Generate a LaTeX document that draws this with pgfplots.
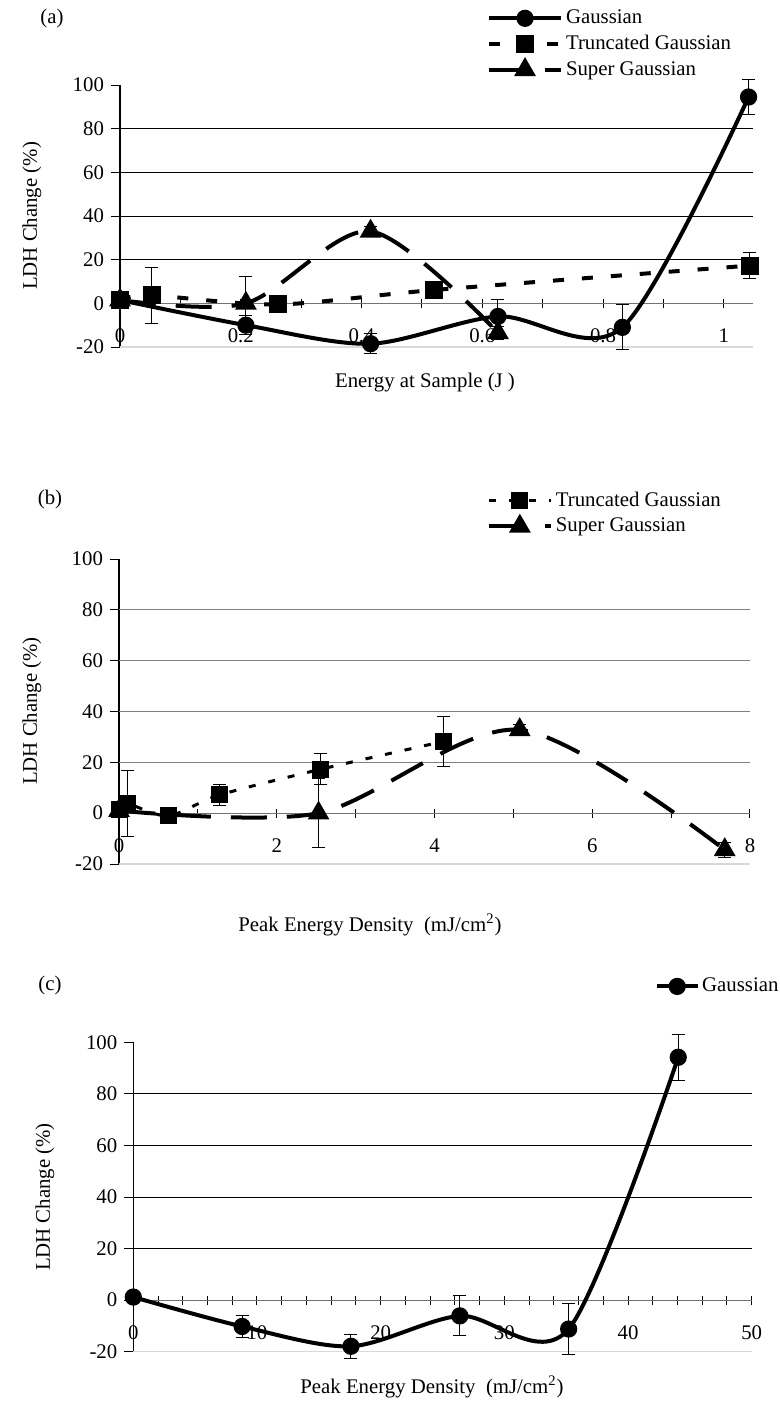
\documentclass[border=0pt]{standalone}
\usepackage{fontspec}
\setmainfont{Liberation Serif}
\usepackage{pgfplots}
\pgfplotsset{compat=1.18}
\begin{document}
\begin{tikzpicture}[font=\fontsize{10.4}{12.5}\selectfont]
\path[use as bounding box] (0pt,0pt) rectangle (390pt,-701.5pt);
\pgfplotsset{
  ldh/.style={
    scale only axis, clip=false, anchor=south west,
    axis x line=middle, axis y line=left,
    axis line style={-},
    x axis line style={black!55, line width=0.6pt},
    y axis line style={black, line width=0.6pt},
    hide obscured x ticks=false, hide obscured y ticks=false,
    ymin=-20, ymax=100, ytick={-20,0,...,100},
    extra y ticks={20,40,60,80}, extra y tick labels={},
    extra y tick style={grid=major, major tick length=0pt},
    major grid style={black, line width=0.5pt},
    xtick align=center, ytick align=outside,
    major tick length=4.5pt, minor tick length=4.5pt,
    tick style={black, line width=0.5pt},
    /pgf/number format/assume math mode=true,
    tick label style={font=\fontsize{10.4}{12.5}\selectfont},
    xticklabel style={yshift=-7pt},
    legend cell align=left,
    legend style={draw=none, fill=none, inner sep=0pt, outer sep=0pt, anchor=north west,
       font=\fontsize{10.4}{12}\selectfont, nodes={inner sep=1.5pt}, row sep=1.3pt},
    legend image code/.code={\draw[mark repeat=2,mark phase=2] plot coordinates {(0pt,0pt) (18pt,0pt) (36pt,0pt)};},
  },
  gauss/.style={black, line width=2pt, smooth, mark=*, mark size=3.3pt, mark options={solid}},
  trunc/.style={black, line width=2pt, smooth, dash pattern=on 5.5pt off 9pt, mark=square*, mark size=3.5pt, mark options={solid}},
  super/.style={black, line width=2pt, smooth, dash pattern=on 18pt off 10pt, mark=triangle*, mark size=4.3pt, mark options={solid}},
  ebar/.style={error bars/.cd, y dir=both, y explicit, error bar style={black, line width=0.5pt, solid}, error mark options={rotate=90, mark size=3.25pt, line width=0.5pt, solid}},
}
% ---------------- (a)
\begin{axis}[ldh, at={(60pt,-173.5pt)}, width=316.4pt, height=131pt,
  xmin=0, xmax=1.048, xtick={0,0.2,0.4,0.6,0.8,1}, xticklabels={0,0.2,0.4,0.6,0.8,1}, minor x tick num=1,
  legend style={at={(0.58,1.298)}}]
\draw[black!15, line width=0.6pt] (rel axis cs:0,0) -- (rel axis cs:1,0);
\addplot[gauss, ebar] coordinates {(0,1.5) +- (0,0) (0.2085,-10) +- (0,4.3) (0.415,-18.5) +- (0,4.7) (0.626,-6) +- (0,7.8) (0.832,-11) +- (0,10.3) (1.041,94.5) +- (0,8)};
\addlegendentry{Gaussian}
\addplot[trunc, ebar] coordinates {(0,1.5) +- (0,0) (0.0526,3.6) +- (0,13) (0.2616,-0.5) +- (0,2) (0.52,6.1) +- (0,3) (1.043,17.3) +- (0,6)};
\addlegendentry{Truncated Gaussian}
\addplot[super, ebar] coordinates {(0,1.5) +- (0,0) (0.2085,0) +- (0,12.5) (0.415,33) +- (0,2) (0.626,-13.5) +- (0,3)};
\addlegendentry{Super Gaussian}
\end{axis}
% ---------------- (b)
\begin{axis}[ldh, at={(59.5pt,-432pt)}, width=315.5pt, height=152.5pt,
  xmin=0, xmax=8, xtick={0,2,4,6,8}, minor x tick num=1,
  major grid style={black!50, line width=0.5pt},
  legend style={at={(0.583,1.23)}},
  legend image code/.code={\draw[mark repeat=2,mark phase=2] plot coordinates {(0pt,0pt) (15.5pt,0pt) (31pt,0pt)};}]
\draw[black!15, line width=0.6pt] (rel axis cs:0,0) -- (rel axis cs:1,0);
\addplot[trunc, line width=1.5pt, dash pattern=on 3.5pt off 6.5pt, ebar] coordinates {(0,1.3) +- (0,0) (0.11,3.7) +- (0,13) (0.625,-1) +- (0,2) (1.28,7.2) +- (0,4) (2.56,17.3) +- (0,6) (4.11,28.2) +- (0,9.7)};
\addlegendentry{Truncated Gaussian}
\addplot[super, ebar] coordinates {(0,1) +- (0,0) (2.53,0) +- (0,13.5) (5.08,32.8) +- (0,2) (7.68,-14.4) +- (0,3)};
\addlegendentry{Super Gaussian}
\end{axis}
% ---------------- (c)
\begin{axis}[ldh, at={(66.65pt,-675.85pt)}, width=309.2pt, height=154.7pt,
  xmin=0, xmax=50, xtick={0,10,20,30,40,50}, minor x tick num=4,
  legend style={at={(0.844,1.2175)}},
  legend image code/.code={\draw[mark repeat=2,mark phase=2] plot coordinates {(0pt,0pt) (10pt,0pt) (20pt,0pt)};}]
\draw[black!15, line width=0.6pt] (rel axis cs:0,0) -- (rel axis cs:1,0);
\addplot[gauss, ebar] coordinates {(0,1.2) +- (0,0) (8.8,-10.2) +- (0,4.3) (17.6,-17.9) +- (0,4.7) (26.4,-6.1) +- (0,7.8) (35.2,-11.2) +- (0,10) (44.06,94.2) +- (0,9)};
\addlegendentry{Gaussian}
\end{axis}
% ---------------- labels
\node at (26pt,-9pt) {(a)};
\node at (25pt,-249.5pt) {(b)};
\node at (25pt,-492.5pt) {(c)};
\node[rotate=90] at (16pt,-108pt) {LDH Change (\%)};
\node[rotate=90] at (16pt,-355.5pt) {LDH Change (\%)};
\node[rotate=90] at (22.5pt,-598.5pt) {LDH Change (\%)};
\node at (212.5pt,-191.5pt) {Energy at Sample (J )};
\node at (185pt,-462.5pt) {Peak Energy Density\ \ (mJ/cm\textsuperscript{2})};
\node at (216pt,-693.5pt) {Peak Energy Density\ \ (mJ/cm\textsuperscript{2})};
\end{tikzpicture}
\end{document}
